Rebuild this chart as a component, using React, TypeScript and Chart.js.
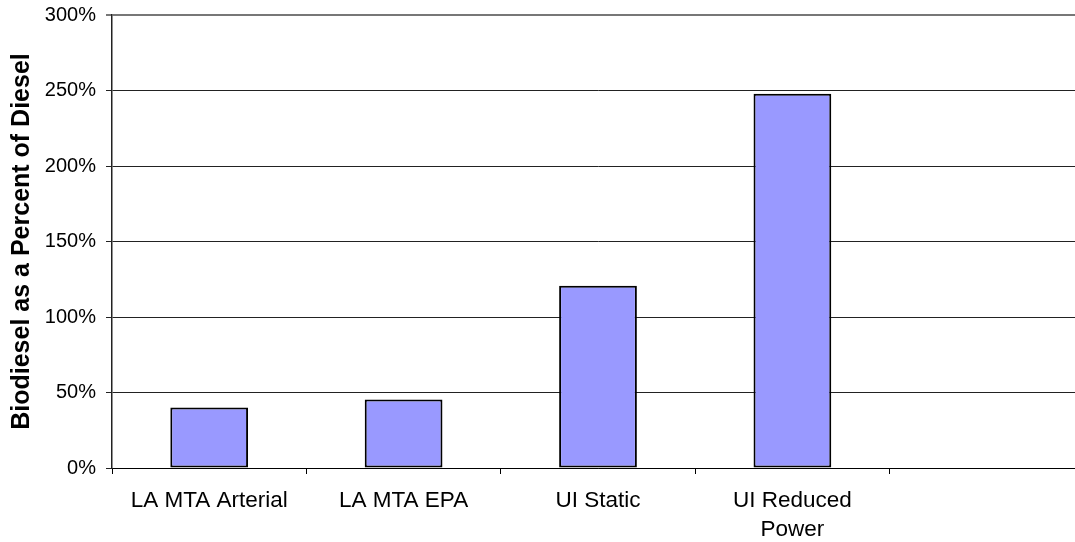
import React, { useEffect, useRef } from "react";
import { Chart, registerables } from "chart.js";

Chart.register(...registerables);

const categories: (string | string[])[] = [
  "LA MTA Arterial",
  "LA MTA EPA",
  "UI Static",
  ["UI Reduced", "Power"],
  "",
];
const percentOfDiesel: (number | null)[] = [40, 45.4, 120.7, 247.8, null];
const yTickValues = [0, 50, 100, 150, 200, 250, 300];

const PAD_LEFT = 7;

export default function App() {
  const ref = useRef<HTMLCanvasElement | null>(null);

  useEffect(() => {
    if (!ref.current) return;
    const chart = new Chart(ref.current, {
      type: "bar",
      data: {
        labels: categories,
        datasets: [
          {
            data: percentOfDiesel,
            backgroundColor: "#9999FF",
            borderColor: "#000000",
            borderWidth: 2,
            borderSkipped: false,
            categoryPercentage: 0.4,
            barPercentage: 1,
          },
        ],
      },
      options: {
        animation: false,
        responsive: false,
        maintainAspectRatio: false,
        layout: { padding: { left: PAD_LEFT, right: 6, top: 15, bottom: 0 } },
        plugins: { legend: { display: false }, tooltip: { enabled: false } },
        scales: {
          x: {
            offset: true,
            grid: {
              offset: true,
              drawOnChartArea: false,
              drawTicks: true,
              tickLength: 6,
              color: "#000",
            },
            border: { display: true, color: "#000", width: 1 },
            ticks: {
              color: "#000",
              font: { family: "Liberation Sans, Arial", size: 22.5, lineHeight: 1.26 },
              padding: 13,
              maxRotation: 0,
              autoSkip: false,
            },
            afterFit: (s: any) => {
              s.height = 74;
              s.paddingLeft = 0;
              s.paddingRight = 0;
            },
          },
          y: {
            min: 0,
            max: 300,
            afterBuildTicks: (s: any) => {
              s.ticks = yTickValues.map((v) => ({ value: v }));
            },
            grid: {
              color: (c: any) => (c.tick && c.tick.value === 300 ? "#777" : "#222"),
              lineWidth: (c: any) => (c.tick && c.tick.value === 300 ? 2 : 1),
              drawTicks: true,
              tickLength: 6,
            },
            border: { display: true, color: "#222", width: 1.5 },
            ticks: {
              color: "#000",
              font: { family: "Liberation Sans, Arial", size: 20 },
              padding: 10,
              callback: (v: any) => v + "%",
            },
            title: {
              display: true,
              text: "Biodiesel as a Percent of Diesel",
              color: "#000",
              font: { family: "Liberation Sans, Arial", size: 25, weight: "bold" },
              padding: 0,
            },
            afterFit: (s: any) => {
              s.width = 112 - PAD_LEFT;
              s.paddingTop = 0;
              s.paddingBottom = 0;
            },
          },
        },
      },
    });
    return () => chart.destroy();
  }, []);

  return (
    <div
      style={{
        position: "fixed",
        left: 0,
        top: 0,
        width: 1075,
        height: 542,
        overflow: "hidden",
        background: "#fff",
      }}
    >
      <canvas ref={ref} width={1090} height={542} style={{ width: 1090, height: 542 }} />
    </div>
  );
}
